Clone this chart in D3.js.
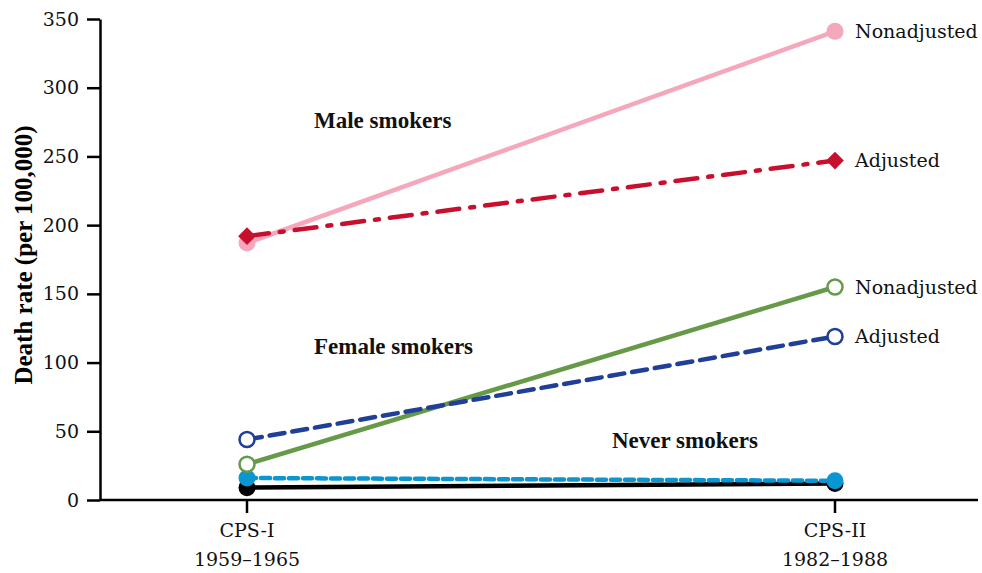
<!DOCTYPE html>
<html><head><meta charset="utf-8">
<script src="https://cdn.jsdelivr.net/npm/d3@7"></script>
<style>body{margin:0;background:#fff}</style>
</head><body><svg id="c" width="982" height="573"></svg>
<script>
const periods = ["CPS-I", "CPS-II"];
const periodYears = ["1959\u20131965", "1982\u20131988"];
const yTicks = [0, 50, 100, 150, 200, 250, 300, 350];
const maleNonadjusted = [187, 341];
const maleAdjusted = [192, 247];
const femaleNonadjusted = [26, 155];
const femaleAdjusted = [44, 119];
const neverFemale = [16, 14];
const neverMale = [9, 12];
const endLabels = ["Nonadjusted", "Adjusted", "Nonadjusted", "Adjusted"];
const groupLabels = ["Male smokers", "Female smokers", "Never smokers"];

const FONT = "'DejaVu Serif', serif";
const BFONT = "'Liberation Serif', 'DejaVu Serif', serif";
const series = [
  {v: neverMale, color: "#000", dash: null, marker: "fill"},
  {v: neverFemale, color: "#0a96d2", dash: "9,5", marker: "fill"},
  {v: femaleNonadjusted, color: "#679a48", dash: null, marker: "open", label: endLabels[2]},
  {v: femaleAdjusted, color: "#1f3f98", dash: "15,8", marker: "open", label: endLabels[3]},
  {v: maleNonadjusted, color: "#f5a8bc", dash: null, marker: "fill", label: endLabels[0]},
  {v: maleAdjusted, color: "#c8102e", dash: "22,11,4,11", marker: "diamond", label: endLabels[1]}
];

const svg = d3.select("#c").attr("font-family", FONT);
const x = d3.scalePoint().domain(periods).range([247, 835]);
const y = d3.scaleLinear().domain([0, 350]).range([500, 19]);

// axes
const ya = svg.append("g").attr("transform", "translate(100,0)")
  .call(d3.axisLeft(y).tickValues(yTicks).tickSize(13).tickPadding(8).tickSizeOuter(0));
ya.attr("font-family", FONT);
ya.select(".domain").attr("stroke-width", 2.5);
ya.selectAll(".tick line").attr("stroke-width", 2.5);
ya.selectAll(".tick text").attr("font-size", 19).attr("fill", "#111");

const xa = svg.append("g").attr("transform", "translate(0,500)");
xa.append("line").attr("x1", 100).attr("x2", 978).attr("stroke", "#000").attr("stroke-width", 2.5);
periods.forEach((p, i) => {
  const g = xa.append("g").attr("transform", `translate(${x(p)},0)`);
  g.append("line").attr("y2", 13).attr("stroke", "#000").attr("stroke-width", 2.5);
  g.append("text").attr("y", 37).attr("text-anchor", "middle").attr("font-size", 19).attr("fill", "#111").text(p);
  g.append("text").attr("y", 66).attr("text-anchor", "middle").attr("font-size", 19).attr("fill", "#111").text(periodYears[i]);
});

svg.append("text").attr("transform", "translate(32,255) rotate(-90)").attr("font-family", BFONT)
  .attr("text-anchor", "middle").attr("font-size", 25).attr("font-weight", "bold").text("Death rate (per 100,000)");

const line = d3.line().x((d, i) => x(periods[i])).y(d => y(d));
series.forEach(s => {
  svg.append("path").attr("d", line(s.v)).attr("fill", "none").attr("stroke", s.color)
    .attr("stroke-width", 4.5).attr("stroke-dasharray", s.dash).attr("stroke-linecap", "round");
});
series.forEach(s => {
  s.v.forEach((d, i) => {
    const cx = x(periods[i]), cy = y(d);
    if (s.marker === "fill") {
      svg.append("circle").attr("cx", cx).attr("cy", cy).attr("r", 8.5).attr("fill", s.color);
    } else if (s.marker === "open") {
      svg.append("circle").attr("cx", cx).attr("cy", cy).attr("r", 7.5).attr("fill", "#fff")
        .attr("stroke", s.color).attr("stroke-width", 2.5);
    } else {
      svg.append("path").attr("d", d3.symbol(d3.symbolDiamond2, 200)()).attr("transform", `translate(${cx},${cy})`)
        .attr("fill", s.color);
    }
  });
  if (s.label) {
    svg.append("text").attr("x", 855).attr("y", y(s.v[1])).attr("dy", "0.35em")
      .attr("font-size", 19).attr("fill", "#111").text(s.label);
  }
});

const gl = [[314, 128], [314, 354], [612, 448]];
groupLabels.forEach((t, i) => {
  svg.append("text").attr("x", gl[i][0]).attr("y", gl[i][1]).attr("font-size", 23).attr("font-family", BFONT)
    .attr("font-weight", "bold").attr("fill", "#111").text(t);
});
</script></body></html>
